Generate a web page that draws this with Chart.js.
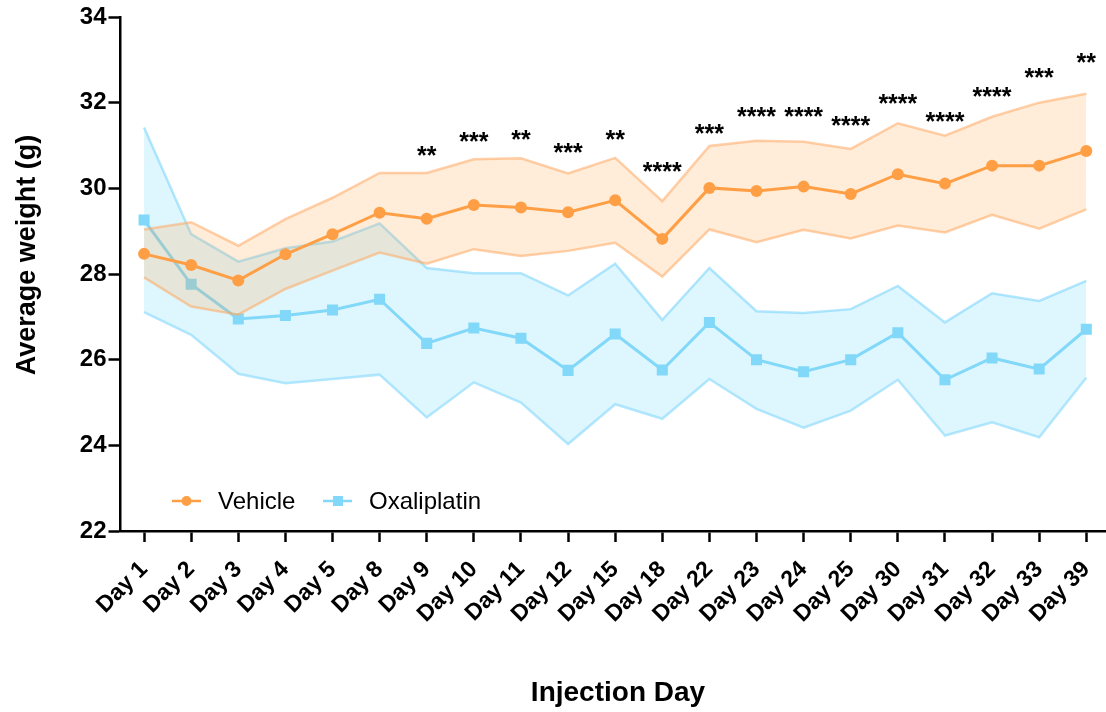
<!DOCTYPE html>
<html>
<head>
<meta charset="utf-8">
<title>Average weight by injection day</title>
<script src="https://cdn.jsdelivr.net/npm/chart.js@4"></script>
<style>
  html, body { margin: 0; padding: 0; background: #fff; overflow: hidden; }
  #chart { display: block; }
</style>
</head>
<body>
<canvas id="chart" width="1120" height="712"></canvas>
<script>
// categories
const days = ['Day 1', 'Day 2', 'Day 3', 'Day 4', 'Day 5', 'Day 8', 'Day 9', 'Day 10', 'Day 11', 'Day 12', 'Day 15',
  'Day 18', 'Day 22', 'Day 23', 'Day 24', 'Day 25', 'Day 30', 'Day 31', 'Day 32', 'Day 33', 'Day 39'];

// Vehicle group: mean and band (upper / lower)
const vehicleMean  = [28.47, 28.21, 27.85, 28.46, 28.93, 29.43, 29.29, 29.61, 29.55, 29.44, 29.72, 28.82, 30.01, 29.94, 30.04, 29.87, 30.33, 30.11, 30.53, 30.53, 30.87];
const vehicleUpper = [29.04, 29.21, 28.66, 29.28, 29.78, 30.36, 30.36, 30.68, 30.70, 30.35, 30.71, 29.70, 30.99, 31.11, 31.09, 30.92, 31.52, 31.23, 31.67, 32.00, 32.21];
const vehicleLower = [27.92, 27.24, 27.05, 27.65, 28.08, 28.50, 28.24, 28.58, 28.42, 28.54, 28.73, 27.94, 29.04, 28.74, 29.03, 28.83, 29.13, 28.97, 29.38, 29.06, 29.51];

// Oxaliplatin group
const oxaliMean  = [29.26, 27.76, 26.95, 27.03, 27.16, 27.41, 26.38, 26.74, 26.50, 25.75, 26.60, 25.76, 26.87, 26.00, 25.72, 26.00, 26.63, 25.53, 26.04, 25.78, 26.71];
const oxaliUpper = [31.42, 28.93, 28.29, 28.60, 28.76, 29.18, 28.14, 28.02, 28.02, 27.50, 28.24, 26.93, 28.14, 27.13, 27.09, 27.18, 27.72, 26.87, 27.55, 27.37, 27.84];
const oxaliLower = [27.11, 26.58, 25.67, 25.45, 25.55, 25.65, 24.65, 25.47, 25.00, 24.03, 24.96, 24.62, 25.55, 24.85, 24.41, 24.81, 25.53, 24.23, 24.54, 24.19, 25.58];

// significance marks and the weight level they sit at
const sigLabels = ['', '', '', '', '', '', '**', '***', '**', '***', '**', '****', '***', '****', '****', '****', '****', '****', '****', '***', '**'];
const sigLevel  = [null, null, null, null, null, null, 30.89, 31.22, 31.27, 30.96, 31.27, 30.52, 31.41, 31.81, 31.81, 31.59, 32.10, 31.69, 32.28, 32.72, 33.07];

const yTicks = [22, 24, 26, 28, 30, 32, 34];

const FONT = "'Liberation Sans', Arial, sans-serif";
const ORANGE = '#FF9F45';
const BLUE = '#82D8F8';

Chart.defaults.font.family = FONT;
Chart.defaults.color = '#000';

// significance stars above each day
const starsPlugin = {
  id: 'stars',
  afterDatasetsDraw(chart) {
    const { ctx, scales: { x, y } } = chart;
    ctx.save();
    ctx.fillStyle = '#000';
    ctx.font = 'bold 25px ' + FONT;
    ctx.textAlign = 'center';
    ctx.textBaseline = 'alphabetic';
    sigLabels.forEach((s, i) => {
      if (!s) return;
      const px = x.getPixelForValue(i);
      const py = y.getPixelForValue(sigLevel[i]);
      ctx.fillText(s, px, py + 14);
    });
    ctx.restore();
  }
};

// legend drawn inside the plot, bottom left, plus axis titles
const extrasPlugin = {
  id: 'extras',
  afterDraw(chart) {
    const { ctx } = chart;
    ctx.save();
    // legend
    const ly = 501;
    const items = [
      { label: 'Vehicle', color: ORANGE, style: 'circle', x: 172 },
      { label: 'Oxaliplatin', color: BLUE, style: 'rect', x: 323 }
    ];
    items.forEach(it => {
      ctx.strokeStyle = it.color;
      ctx.lineWidth = 2.5;
      ctx.beginPath();
      ctx.moveTo(it.x, ly);
      ctx.lineTo(it.x + 29, ly);
      ctx.stroke();
      ctx.fillStyle = it.color;
      if (it.style === 'circle') {
        ctx.beginPath();
        ctx.arc(it.x + 14.5, ly, 5, 0, Math.PI * 2);
        ctx.fill();
      } else {
        ctx.fillRect(it.x + 10, ly - 5, 10, 10);
      }
      ctx.fillStyle = '#000';
      ctx.font = '24px ' + FONT;
      ctx.textAlign = 'left';
      ctx.textBaseline = 'middle';
      ctx.fillText(it.label, it.x + 46, ly + 1);
    });

    // axis titles
    ctx.fillStyle = '#000';
    ctx.font = 'bold 27px ' + FONT;
    ctx.textAlign = 'center';
    ctx.textBaseline = 'middle';
    ctx.save();
    ctx.translate(28, 255);
    ctx.rotate(-Math.PI / 2);
    ctx.fillText('Average weight (g)', 0, 0);
    ctx.restore();

    ctx.font = 'bold 28px ' + FONT;
    ctx.fillText('Injection Day', 618, 693);
    ctx.restore();
  }
};

const bandEdgeOrange = 'rgba(255,170,100,0.55)';
const bandEdgeBlue = 'rgba(100,205,250,0.48)';

new Chart(document.getElementById('chart'), {
  type: 'line',
  data: {
    labels: days,
    datasets: [
      {
        label: 'Vehicle',
        data: vehicleMean,
        borderColor: ORANGE,
        backgroundColor: ORANGE,
        borderWidth: 3,
        pointStyle: 'circle',
        pointRadius: 6,
        pointBorderWidth: 0,
        fill: false
      },
      {
        label: 'Vehicle upper',
        data: vehicleUpper,
        borderColor: bandEdgeOrange,
        borderWidth: 2.5,
        pointRadius: 0,
        backgroundColor: 'rgba(255,158,64,0.2)',
        fill: '+1'
      },
      {
        label: 'Vehicle lower',
        data: vehicleLower,
        borderColor: bandEdgeOrange,
        borderWidth: 2.5,
        pointRadius: 0,
        fill: false
      },
      {
        label: 'Oxaliplatin',
        data: oxaliMean,
        borderColor: BLUE,
        backgroundColor: BLUE,
        borderWidth: 3,
        pointStyle: 'rect',
        pointRadius: 7.8,
        pointBorderWidth: 0,
        fill: false
      },
      {
        label: 'Oxaliplatin upper',
        data: oxaliUpper,
        borderColor: bandEdgeBlue,
        borderWidth: 2.5,
        pointRadius: 0,
        backgroundColor: 'rgba(135,221,250,0.28)',
        fill: '+1'
      },
      {
        label: 'Oxaliplatin lower',
        data: oxaliLower,
        borderColor: bandEdgeBlue,
        borderWidth: 2.5,
        pointRadius: 0,
        fill: false
      }
    ]
  },
  options: {
    responsive: false,
    animation: false,
    layout: { padding: { top: 17, right: 0, left: 0, bottom: 0 } },
    plugins: {
      legend: { display: false },
      tooltip: { enabled: false }
    },
    elements: { line: { tension: 0 } },
    scales: {
      x: {
        type: 'category',
        offset: true,
        grid: {
          display: true,
          drawOnChartArea: false,
          offset: false,
          tickLength: 11,
          tickWidth: 2.5,
          tickColor: '#000'
        },
        border: { color: '#000', width: 2.5 },
        ticks: {
          autoSkip: false,
          minRotation: 45,
          maxRotation: 45,
          padding: 14,
          color: '#000',
          font: { size: 23, weight: 'bold' }
        },
        afterFit(scale) { scale.height = 181; }
      },
      y: {
        min: 22,
        max: 34,
        afterBuildTicks(scale) { scale.ticks = yTicks.map(v => ({ value: v })); },
        grid: {
          drawOnChartArea: false,
          tickLength: 12,
          tickWidth: 2.5,
          tickColor: '#000'
        },
        border: { color: '#000', width: 2.5 },
        ticks: {
          padding: 2,
          color: '#000',
          font: { size: 24, weight: 'bold' }
        },
        afterFit(scale) { scale.width = 120.5; }
      }
    }
  },
  plugins: [starsPlugin, extrasPlugin]
});
</script>
</body>
</html>
